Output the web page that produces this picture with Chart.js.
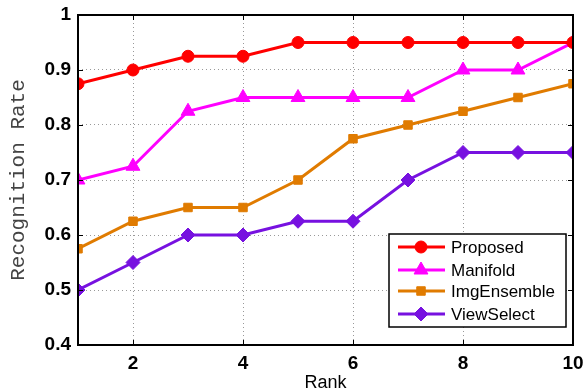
<!DOCTYPE html>
<html><head><meta charset="utf-8">
<script src="https://cdn.jsdelivr.net/npm/chart.js@4/dist/chart.umd.min.js"></script>
<style>html,body{margin:0;padding:0;background:#fff;}#wrap{width:586px;height:391px;position:relative;}</style>
</head><body><div id="wrap"><canvas id="c"></canvas></div>
<script>
const ranks = [1,2,3,4,5,6,7,8,9,10];
const proposed = [0.875,0.9,0.925,0.925,0.95,0.95,0.95,0.95,0.95,0.95];
const manifold = [0.7,0.725,0.825,0.85,0.85,0.85,0.85,0.9,0.9,0.95];
const imgEnsemble = [0.575,0.625,0.65,0.65,0.7,0.775,0.8,0.825,0.85,0.875];
const viewSelect = [0.5,0.55,0.6,0.6,0.625,0.625,0.7,0.75,0.75,0.75];
const xTicks = [2,4,6,8,10];
const yTicks = [0.4,0.5,0.6,0.7,0.8,0.9,1];
const seriesNames = ['Proposed','Manifold','ImgEnsemble','ViewSelect'];

function pts(arr){return arr.map((v,i)=>({x:ranks[i],y:v}));}

const styles = [
  {color:'#ff0000', pointStyle:'circle', r:6},
  {color:'#ff00ff', pointStyle:'triangle', r:8},
  {color:'#e07b00', pointStyle:'rect', r:6},
  {color:'#7711e0', pointStyle:'rectRot', r:7}
];
const allData=[proposed,manifold,imgEnsemble,viewSelect];
const datasets = allData.map((d,i)=>({
  label:seriesNames[i], data:pts(d), borderColor:styles[i].color, backgroundColor:styles[i].color,
  borderWidth:3, pointStyle:styles[i].pointStyle, pointRadius:styles[i].r, pointBorderWidth:1,
  pointBorderColor:styles[i].color, tension:0
}));

const frame = {
  id:'frame',
  afterDraw(chart){
    const {ctx, chartArea:a, scales} = chart;
    ctx.save();
    ctx.strokeStyle='#000'; ctx.lineWidth=2;
    ctx.strokeRect(a.left,a.top,a.right-a.left,a.bottom-a.top);
    ctx.lineWidth=1;
    yTicks.forEach(v=>{const y=Math.round(scales.y.getPixelForValue(v))+0.5;
      ctx.beginPath();ctx.moveTo(a.left,y);ctx.lineTo(a.left+5,y);ctx.moveTo(a.right,y);ctx.lineTo(a.right-5,y);ctx.stroke();});
    xTicks.forEach(v=>{const x=Math.round(scales.x.getPixelForValue(v))+0.5;
      ctx.beginPath();ctx.moveTo(x,a.bottom);ctx.lineTo(x,a.bottom-5);ctx.moveTo(x,a.top);ctx.lineTo(x,a.top+5);ctx.stroke();});
    const lx=389, ly=234, lw=177, lh=93;
    ctx.fillStyle='#fff'; ctx.fillRect(lx,ly,lw,lh);
    ctx.strokeStyle='#000'; ctx.lineWidth=1.5; ctx.strokeRect(lx,ly,lw,lh);
    const rows=[247,270,291,314];
    seriesNames.forEach((n,i)=>{
      const y=rows[i], st=styles[i];
      ctx.strokeStyle=st.color; ctx.lineWidth=3;
      ctx.beginPath();ctx.moveTo(398,y);ctx.lineTo(445,y);ctx.stroke();
      ctx.fillStyle=st.color;ctx.strokeStyle=st.color;ctx.lineWidth=1;
      Chart.helpers.drawPoint(ctx,{pointStyle:st.pointStyle,radius:st.r,borderWidth:1},421,y);
      ctx.fillStyle='#000'; ctx.font='17px "Liberation Sans", Arial, sans-serif';
      ctx.textBaseline='middle'; ctx.textAlign='left';
      ctx.fillText(n,451,y+1);
    });
    ctx.restore();
  }
};

new Chart(document.getElementById('c'),{
  type:'line',
  data:{datasets},
  options:{
    responsive:true, maintainAspectRatio:false, animation:false,
    layout:{padding:{top:15,right:13,left:0,bottom:0}},
    plugins:{legend:{display:false},tooltip:{enabled:false}},
    scales:{
      x:{type:'linear',min:1,max:10,
        afterBuildTicks(s){s.ticks=xTicks.map(v=>({value:v}));},
        afterFit(s){s.height=46;s.paddingLeft=0;s.paddingRight=0;},
        grid:{color:'#999',lineWidth:1,drawTicks:false},
        border:{display:false, dash:[1,3]},
        ticks:{color:'#000',padding:7,font:{family:'"Liberation Sans", Arial, sans-serif',size:19,weight:'bold'},maxRotation:0},
        title:{display:true,text:'Rank',color:'#000',padding:{top:0,bottom:0},font:{family:'"Liberation Sans", Arial, sans-serif',size:18,lineHeight:0.9}}
      },
      y:{type:'linear',min:0.4,max:1,
        afterBuildTicks(s){s.ticks=yTicks.map(v=>({value:v}));},
        afterFit(s){s.width=78;s.paddingTop=0;s.paddingBottom=0;},
        grid:{color:'#999',lineWidth:1,drawTicks:false},
        border:{display:false,dash:[1,3]},
        ticks:{color:'#000',padding:7,font:{family:'"Liberation Sans", Arial, sans-serif',size:19,weight:'bold'},callback:v=>String(Math.round(v*10)/10)},
        title:{display:true,text:'Recognition Rate',color:'#444',padding:{top:6,bottom:4},font:{family:'"Liberation Mono", monospace',size:21}}
      }
    }
  },
  plugins:[frame]
});
</script></body></html>
